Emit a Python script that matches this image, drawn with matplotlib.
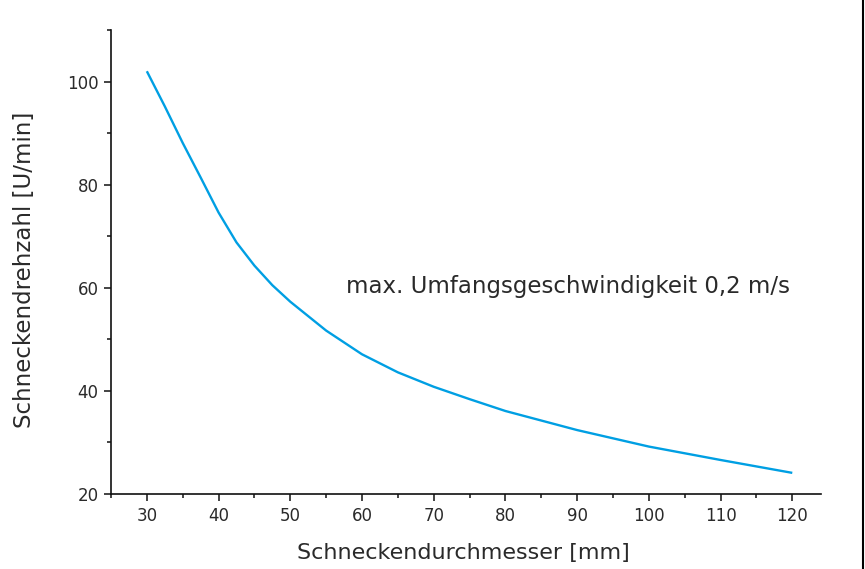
import matplotlib
matplotlib.use("Agg")
import matplotlib.pyplot as plt
from matplotlib.lines import Line2D
from matplotlib.ticker import MultipleLocator

plt.rcParams['font.family'] = ['DejaVu Sans']

# Schneckendurchmesser [mm] / Schneckendrehzahl [U/min]
durchmesser = [30, 32.5, 35, 37.5, 40, 42.5, 45, 47.5, 50, 55, 60, 65, 70, 75, 80, 90, 100, 110, 120]
drehzahl = [102, 95.2, 88.1, 81.4, 74.6, 68.8, 64.3, 60.5, 57.3, 51.7, 47.1, 43.6, 40.8, 38.4, 36.1,
            32.4, 29.2, 26.6, 24.1]

text_col = '#2a2a2a'

fig = plt.figure(figsize=(8.65, 5.69), dpi=100)
ax = fig.add_axes([0.1283, 0.1318, 0.8208, 0.8155])

ax.plot(durchmesser, drehzahl, color='#009fe3', lw=1.7, solid_capstyle='butt')

ax.set_xlim(25, 124)
ax.set_ylim(20, 110)
ax.xaxis.set_major_locator(MultipleLocator(10))
ax.xaxis.set_minor_locator(MultipleLocator(5))
ax.yaxis.set_major_locator(MultipleLocator(20))
ax.yaxis.set_minor_locator(MultipleLocator(10))
ax.set_xticks(range(30, 121, 10))

for s in ['top', 'right']:
    ax.spines[s].set_visible(False)
for s in ['left', 'bottom']:
    ax.spines[s].set_linewidth(1.2)
    ax.spines[s].set_color('#111111')

ax.tick_params(which='major', length=5, width=1.1, color='#111111',
               labelsize=12, labelcolor=text_col, pad=4)
ax.tick_params(which='minor', length=3, width=1.1, color='#111111')

ax.set_xlabel('Schneckendurchmesser [mm]', fontsize=16, color=text_col)
ax.xaxis.set_label_coords(0.496, -0.106)
ax.set_ylabel('Schneckendrehzahl [U/min]', fontsize=16.5, color=text_col)
ax.yaxis.set_label_coords(-0.106, 0.483)

ax.text(57.8, 60.2, 'max. Umfangsgeschwindigkeit 0,2 m/s', fontsize=16.5,
        color=text_col, va='center', ha='left')

fig.add_artist(Line2D([0.9977, 0.9977], [0, 1], transform=fig.transFigure,
                      color='black', lw=1.5))

fig.savefig('out.png', dpi=100)
